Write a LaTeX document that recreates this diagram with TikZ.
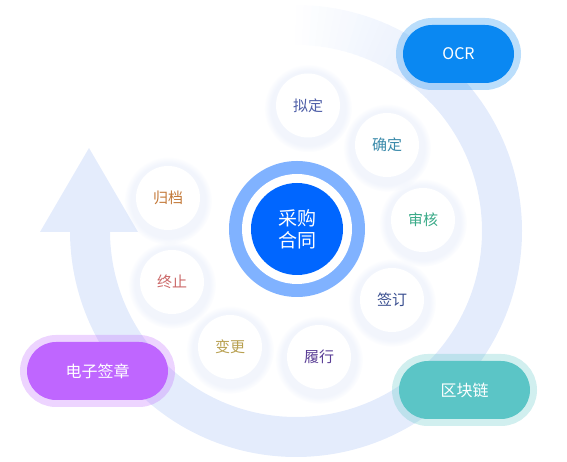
\documentclass[tikz,border=0pt]{standalone}
\usepackage{fontspec}
\setmainfont{Noto Sans CJK SC}
\usetikzlibrary{positioning}
\usetikzlibrary{shadows}
\definecolor{ringc}{HTML}{E4ECFC}
\definecolor{shadowc}{HTML}{E2E9F9}
\definecolor{corering}{HTML}{80B2FF}
\definecolor{coreblue}{HTML}{0066FF}
\definecolor{ocrc}{HTML}{0A88F2}
\definecolor{signc}{HTML}{BF66FF}
\definecolor{chainc}{HTML}{5BC5C6}
\definecolor{t1}{HTML}{4F5FA8}
\definecolor{t2}{HTML}{3A8AAA}
\definecolor{t3}{HTML}{3AAA88}
\definecolor{t4}{HTML}{3A4F90}
\definecolor{t5}{HTML}{5B3F96}
\definecolor{t6}{HTML}{B8A050}
\definecolor{t7}{HTML}{CC6A6A}
\definecolor{t8}{HTML}{C47A3A}
\tikzset{
    stage/.style = {circle, fill=white, minimum size=64pt, inner sep=0pt, font=\fontsize{15}{18}\selectfont,
        circular drop shadow={shadow xshift=0pt, shadow yshift=-2pt, shadow scale=1.38, fill=shadowc, opacity=.45}},
    pill/.style 2 args = {rectangle, rounded corners=29pt, minimum width=#1, minimum height=58pt, inner sep=0pt,
        fill=#2, preaction={draw=#2, draw opacity=.28, line width=14pt}, text=white, font=\fontsize{16}{18}\selectfont},
    band/.style = {ringc, line width=40pt},
}

\begin{document}
\begin{tikzpicture}[x=1pt,y=1pt]
\useasboundingbox (0,0) rectangle (567,462);
% big arrow ring, faded in at the top
\coordinate (o) at (296,231);
\foreach \a in {92,90,...,46}{
    \pgfmathtruncatemacro\p{min(100,(92-\a)*100/46)}
    \draw[band, color=ringc!\p!white] (o) ++(\a:206) arc[start angle=\a, end angle=\a-2.3, radius=206];
}
\draw[band] (o) ++(45:206) arc[start angle=45, end angle=-180, radius=206];
\fill[ringc] (40,230) -- (89,314) -- (138,230) -- cycle;
% centre
\node[circle, fill=corering, minimum size=136pt] (core) at (297,233) {};
\node[circle, fill=white, minimum size=110pt] (gap) at (core) {};
\node[circle, fill=coreblue, minimum size=92pt, text=white, align=center,
      font=\fontsize{19}{22}\selectfont] (c) at (core) {采购\\合同};
% stages
\node[stage, text=t1] (s1) at (308,356.5) {拟定};
\node[stage, text=t2] (s2) at (387,317) {确定};
\node[stage, text=t3] (s3) at (423,242) {审核};
\node[stage, text=t4] (s4) at (392,162) {签订};
\node[stage, text=t5] (s5) at (319,105) {履行};
\node[stage, text=t6] (s6) at (230,115) {变更};
\node[stage, text=t7] (s7) at (172,180) {终止};
\node[stage, text=t8] (s8) at (168,264) {归档};
% tools
\node[pill={111pt}{ocrc}] (ocr) at (458.5,408) {OCR};
\node[pill={141pt}{signc}] (sign) at (97.5,91) {电子签章};
\node[pill={131pt}{chainc}] (chain) at (464.5,72) {区块链};
\end{tikzpicture}
\end{document}
